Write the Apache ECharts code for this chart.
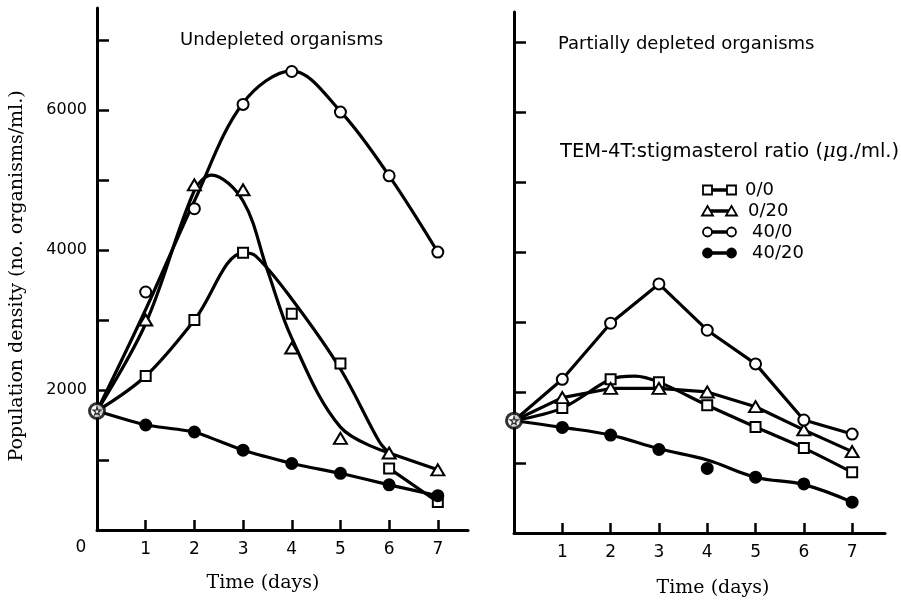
<!DOCTYPE html>
<html><head><meta charset="utf-8">
<script src="https://cdn.jsdelivr.net/npm/echarts@6/dist/echarts.min.js"></script>
<style>html,body{margin:0;padding:0;background:#fff}#c{width:901px;height:606px}</style>
</head><body><div id="c"></div>
<script>
// ---- categories / ticks ----
const days = [1, 2, 3, 4, 5, 6, 7];
const yTickValues = [1000, 2000, 3000, 4000, 5000, 6000, 7000];
const yLabelValues = [2000, 4000, 6000];
const legendLabels = ['0/0', '0/20', '40/0', '40/20'];

// ---- Undepleted organisms (observed points, days 1..7) ----
const undepStart = 1700;
const undep_0_0  = [2200, 3000, 3960, 3090, 2380, 880, 400];
const undep_0_20 = [3000, 4930, 4860, 2600, 1310, 1100, 860];
const undep_40_0 = [3400, 4590, 6080, 6550, 5970, 5060, 3970];
const undep_40_20 = [1500, 1400, 1140, 950, 810, 645, 490];

// ---- Undepleted: fitted curves as drawn [day, value] ----
const undepFit_0_0  = [[0,1700],[1,2200],[2,3000],[3,3960],[3.25,3920],[4,3300],[5,2300],[5.8,1260],[6,1100]];
const undepFit_0_20 = [[0,1700],[1,2950],[2,4850],[2.35,5070],[3,4700],[3.5,3710],[4,2740],[5,1470],[6,1100]];
const undepFit_40_0 = [[0,1700],[1,3150],[2,4700],[3,6100],[4,6560],[5,5980],[6,5060],[7,3970]];

// ---- Partially depleted organisms (observed points, days 1..7) ----
const partStart = 1600;
const part_0_0  = [1780, 2190, 2150, 1820, 1510, 1210, 865];
const part_0_20 = [1930, 2060, 2060, 2010, 1800, 1470, 1160];
const part_40_0 = [2190, 2990, 3550, 2890, 2410, 1610, 1410];
const part_40_20 = [1505, 1395, 1190, 920, 795, 700, 440];

// ---- Partially depleted: fitted curves as drawn ----
const partFit_0_0  = [[0,1600],[1,1780],[2,2190],[2.5,2235],[3,2150],[4,1820],[5,1510],[6,1210],[7,865]];
const partFit_40_20 = [[0,1600],[1,1505],[2,1395],[3,1200],[4,1040],[5,795],[6,690],[7,440]];

const chart = echarts.init(document.getElementById('c'));
const pts = vals => vals.map((v, i) => [days[i], v]);
const withStart = (s, vals) => [[0, s]].concat(pts(vals));
const tail = vals => [[days[5], vals[5]], [days[6], vals[6]]];

const LW = 3.2;
function line(gi, data, smooth) {
  return { type: 'line', xAxisIndex: gi, yAxisIndex: gi, data: data, smooth: smooth || false,
    showSymbol: false, symbol: 'none', silent: true, z: 2,
    lineStyle: { color: '#000', width: LW, cap: 'round' } };
}
const markerDefs = {
  sq:  { symbol: 'rect', size: 10, fill: '#fff' },
  tri: { symbol: 'triangle', size: [13, 11], fill: '#fff' },
  oc:  { symbol: 'circle', size: 11, fill: '#fff' },
  fc:  { symbol: 'circle', size: 11, fill: '#000' }
};
function scat(gi, data, kind) {
  const m = markerDefs[kind];
  return { type: 'scatter', xAxisIndex: gi, yAxisIndex: gi, data: data, symbol: m.symbol,
    symbolSize: m.size, z: 4, silent: true,
    itemStyle: { color: m.fill, borderColor: '#000', borderWidth: 2, opacity: 1 } };
}
const starPath = 'path://M50,0 L61,35 L98,35 L68,57 L79,91 L50,70 L21,91 L32,57 L2,35 L39,35 Z';
function origin(gi, v) {
  return [
    { type: 'scatter', xAxisIndex: gi, yAxisIndex: gi, data: [[0, v]], symbol: 'circle', symbolSize: 15, z: 5, silent: true,
      itemStyle: { color: '#fff', borderColor: '#000', borderWidth: 3 } },
    { type: 'scatter', xAxisIndex: gi, yAxisIndex: gi, data: [[0, v]], symbol: starPath, symbolSize: 8, z: 6, silent: true,
      itemStyle: { color: '#fff', borderColor: '#000', borderWidth: 1.2 } }
  ];
}

const series = [
  // left panel
  line(0, undepFit_0_0, 0.35), line(0, tail(undep_0_0)),
  line(0, undepFit_0_20, 0.35), line(0, tail(undep_0_20)),
  line(0, undepFit_40_0, 0.35),
  line(0, withStart(undepStart, undep_40_20), 0.15),
  scat(0, pts(undep_0_0), 'sq'), scat(0, pts(undep_0_20), 'tri'),
  scat(0, pts(undep_40_0), 'oc'), scat(0, pts(undep_40_20), 'fc'),
  ...origin(0, undepStart),
  // right panel
  line(1, partFit_0_0, 0.3),
  line(1, withStart(partStart, part_0_20)),
  line(1, withStart(partStart, part_40_0)),
  line(1, partFit_40_20, 0.4),
  scat(1, pts(part_0_0), 'sq'), scat(1, pts(part_0_20), 'tri'),
  scat(1, pts(part_40_0), 'oc'), scat(1, pts(part_40_20), 'fc'),
  ...origin(1, partStart)
];

const sansFont = 'DejaVu Sans';
const serifFont = 'DejaVu Serif';
function xAxisDef(gi, max) {
  return { gridIndex: gi, type: 'value', min: 0, max: max,
    axisLine: { show: true, onZero: false, lineStyle: { color: '#000', width: 3 } },
    axisTick: { show: true, inside: true, length: 10, customValues: days, lineStyle: { color: '#000', width: 2.5 } },
    axisLabel: { show: true, customValues: days, margin: 11, color: '#000', fontFamily: sansFont, fontSize: 17,
      formatter: v => String(v) },
    splitLine: { show: false } };
}
function yAxisDef(gi, max, showLabels) {
  return { gridIndex: gi, type: 'value', min: 0, max: max,
    axisLine: { show: true, onZero: false, lineStyle: { color: '#000', width: 3 } },
    axisTick: { show: true, inside: true, length: 12, customValues: yTickValues, lineStyle: { color: '#000', width: 2.5 } },
    axisLabel: { show: showLabels, customValues: yLabelValues, margin: 10, color: '#000', fontFamily: sansFont, fontSize: 16,
      formatter: v => String(v) },
    splitLine: { show: false } };
}

// legend drawn as symbol-line-symbol rows
const legendRowY = [190, 211, 232, 253];
const legendTextX = [745, 748, 752, 752];
const legendKinds = ['sq', 'tri', 'oc', 'fc'];
function legendSymbol(kind, cx, cy) {
  const st = { fill: markerDefs[kind].fill, stroke: '#000', lineWidth: 1.8 };
  if (kind === 'sq') return { type: 'rect', shape: { x: cx - 4.5, y: cy - 4.5, width: 9, height: 9 }, style: st, z: 10 };
  if (kind === 'tri') return { type: 'polygon', shape: { points: [[cx, cy - 5], [cx + 5.5, cy + 4.5], [cx - 5.5, cy + 4.5]] }, style: st, z: 10 };
  return { type: 'circle', shape: { cx: cx, cy: cy, r: 4.5 }, style: st, z: 10 };
}
const legendGraphics = [];
legendLabels.forEach((lab, i) => {
  const y = legendRowY[i];
  legendGraphics.push({ type: 'line', shape: { x1: 709, y1: y, x2: 730, y2: y }, style: { stroke: '#000', lineWidth: 3.5 }, z: 9 });
  legendGraphics.push(legendSymbol(legendKinds[i], 707.5, y));
  legendGraphics.push(legendSymbol(legendKinds[i], 731.5, y));
  legendGraphics.push({ type: 'text', x: legendTextX[i], y: y, style: { text: lab, font: '18px ' + sansFont, fill: '#000', textVerticalAlign: 'middle' }, z: 10 });
});

chart.setOption({
  backgroundColor: '#fff',
  animation: false,
  grid: [
    { left: 97, top: 8, width: 371, height: 522 },
    { left: 514, top: 12, width: 371, height: 521 }
  ],
  xAxis: [xAxisDef(0, 7.62), xAxisDef(1, 7.68)],
  yAxis: [yAxisDef(0, 7457, true), yAxisDef(1, 7425, false)],
  series: series,
  graphic: [
    { type: 'text', x: 180, y: 40, style: { text: 'Undepleted organisms', font: '18px ' + sansFont, fill: '#000', textVerticalAlign: 'middle' } },
    { type: 'text', x: 558, y: 44, style: { text: 'Partially depleted organisms', font: '18px ' + sansFont, fill: '#000', textVerticalAlign: 'middle' } },
    { type: 'text', x: 560, y: 152, style: { text: 'TEM-4T:stigmasterol ratio ({i|\u03bc}g./ml.)', font: '19.5px ' + sansFont, fill: '#000', textVerticalAlign: 'middle',
        rich: { i: { fontStyle: 'italic', fontFamily: 'DejaVu Serif', fontSize: 19.5 } } } },
    { type: 'text', x: 17, y: 276, rotation: Math.PI / 2, style: { text: 'Population density (no. organisms/ml.)', font: '19px ' + serifFont, fill: '#000', textAlign: 'center', textVerticalAlign: 'middle' } },
    { type: 'text', x: 263, y: 583, style: { text: 'Time (days)', font: '19px ' + serifFont, fill: '#000', textAlign: 'center', textVerticalAlign: 'middle' } },
    { type: 'text', x: 713, y: 588, style: { text: 'Time (days)', font: '19px ' + serifFont, fill: '#000', textAlign: 'center', textVerticalAlign: 'middle' } },
    { type: 'text', x: 81, y: 548, style: { text: '0', font: '17px ' + sansFont, fill: '#000', textAlign: 'center', textVerticalAlign: 'middle' } }
  ].concat(legendGraphics)
});
</script>
</body></html>
